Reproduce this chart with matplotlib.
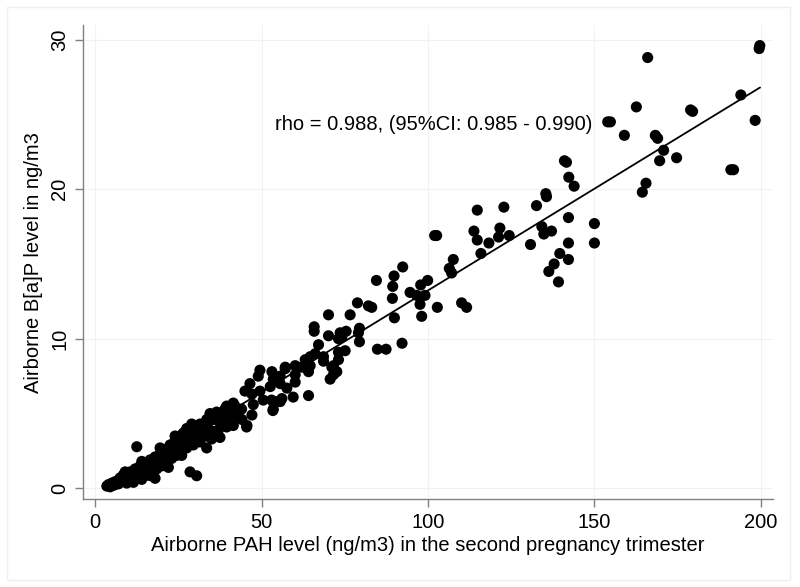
import matplotlib
matplotlib.use("Agg")
import matplotlib.pyplot as plt
from matplotlib.patches import Rectangle
import numpy as np

plt.rcParams["font.family"] = ["Liberation Sans", "DejaVu Sans"]

# PAH (x) and B[a]P (y) values
pah_high = [199.7, 199.5, 166.0, 162.6, 178.9, 179.5, 194.0, 154.0, 154.8, 159.0,
            168.3, 169.0, 198.3, 170.8, 169.6, 174.7, 191.0, 191.8, 141.0, 141.6,
            142.3, 143.9, 165.5, 164.4, 135.6, 135.4, 132.6, 114.8, 122.8, 142.2,
            150.0, 150.0, 102.6, 102.0, 113.8, 114.8, 118.3, 121.6, 121.2, 124.4,
            134.2, 134.8, 137.1, 130.8, 142.2, 115.9, 139.6, 142.2, 137.9, 136.3,
            139.2]
bap_high = [29.6, 29.4, 28.8, 25.5, 25.3, 25.2, 26.3, 24.5, 24.5, 23.6,
            23.6, 23.4, 24.6, 22.6, 21.9, 22.1, 21.3, 21.3, 21.9, 21.8,
            20.8, 20.2, 20.4, 19.8, 19.5, 19.7, 18.9, 18.6, 18.8, 18.1,
            17.7, 16.4, 16.9, 16.9, 17.2, 16.6, 16.4, 17.4, 16.8, 16.9,
            17.5, 17.0, 17.2, 16.3, 16.4, 15.7, 15.7, 15.3, 15.0, 14.5,
            13.8]

pah_mid = [92.4, 107.6, 106.4, 107.1, 99.9, 97.8, 94.6, 99.1, 96.6, 84.5,
           89.8, 89.4, 89.3, 97.6, 102.8, 110.1, 111.6, 98.1, 89.9, 78.8,
           82.1, 83.1, 70.1, 76.6, 65.8, 65.8, 70.1, 73.6, 75.4, 73.1,
           74.1, 79.4, 79.1, 79.4, 84.8, 87.4, 92.2, 67.1, 66.1, 64.6,
           68.6, 68.6, 73.1, 75.1, 73.1, 71.6, 72.6, 70.6, 71.1, 71.6,
           63.1, 62.1, 64.6, 64.1, 57.1, 60.1, 60.1, 60.1, 53.1, 53.5,
           52.6, 57.6, 59.5, 64.1, 56.1, 54.1, 53.5, 57.1, 55.6, 55.6,
           49.5, 49.0, 46.5, 45.0, 47.1, 49.5, 50.5, 53.0, 55.6, 47.5,
           47.1, 45.6, 44.1, 45.5, 53.4]
bap_mid = [14.8, 15.3, 14.7, 14.4, 13.9, 13.6, 13.1, 12.9, 12.9, 13.9,
           14.2, 13.5, 12.7, 12.3, 12.1, 12.4, 12.1, 11.5, 11.4, 12.4,
           12.2, 12.1, 11.6, 11.6, 10.8, 10.5, 10.2, 10.4, 10.5, 10.0,
           10.1, 10.7, 10.4, 9.8, 9.3, 9.3, 9.7, 9.6, 9.0, 8.8,
           8.8, 8.5, 9.1, 9.2, 8.6, 8.2, 7.8, 7.3, 8.1, 7.6,
           8.6, 8.1, 8.2, 7.8, 8.1, 8.2, 7.6, 7.1, 7.8, 7.3,
           6.8, 6.7, 6.1, 6.2, 6.0, 5.8, 5.3, 8.0, 7.5, 7.0,
           7.9, 7.5, 7.0, 6.5, 6.3, 6.5, 5.9, 5.9, 5.8, 5.6,
           4.9, 4.2, 4.6, 4.1, 5.2]

pah_low = [41.5, 39.5, 38.5, 40.5, 42.6, 36.5, 35.5, 37.5, 39.5, 41.5,
           33.5, 31.5, 30.5, 32.5, 34.0, 35.5, 37.5, 27.5, 26.5, 28.5,
           27.0, 30.0, 33.5, 12.5, 18.0, 28.5, 30.5,
           3.5, 4.0, 4.5, 5.0, 5.5, 6.0, 6.5, 7.0, 7.0, 7.5,
           8.0, 8.5, 9.0, 9.5, 10.0, 10.5, 11.0, 11.5, 12.0, 12.5,
           13.0, 13.5, 14.0, 14.5, 15.0, 15.5, 16.0, 16.5, 17.0, 17.5,
           18.0, 18.5, 19.0, 19.5, 20.0, 20.5, 21.0, 21.5, 22.0, 22.5,
           23.0, 23.5, 24.0, 24.5, 25.0, 25.5, 26.0, 26.5, 27.0, 27.5,
           28.0, 29.0, 29.5, 30.0, 31.0, 31.5, 32.0, 33.0, 33.5, 34.0,
           35.0, 36.0, 37.0, 38.0, 39.0, 40.0, 41.0, 42.0, 43.0, 44.0,
           9.0, 14.0, 19.5, 24.0, 29.0, 34.5, 22.0, 16.5, 11.5, 26.0]
bap_low = [5.7, 5.5, 5.1, 4.8, 4.9, 5.1, 4.6, 4.4, 4.1, 4.2,
           4.6, 4.3, 3.9, 3.6, 4.0, 3.8, 3.4, 4.0, 3.7, 3.2,
           3.0, 3.3, 2.7, 2.78, 0.67, 1.1, 0.84,
           0.15, 0.25, 0.1, 0.35, 0.2, 0.45, 0.3, 0.55, 0.3, 0.7,
           0.45, 0.9, 0.6, 0.35, 0.8, 1.1, 0.5, 0.9, 1.3, 0.7,
           1.1, 1.5, 0.6, 1.2, 1.7, 0.9, 1.4, 1.9, 1.1, 1.6,
           2.1, 1.3, 1.8, 2.3, 1.5, 2.0, 2.6, 1.7, 2.3, 2.9,
           2.0, 2.6, 3.2, 2.2, 2.8, 3.5, 2.5, 3.0, 3.7, 2.7,
           3.4, 3.9, 2.9, 3.6, 4.1, 3.1, 3.9, 4.3, 3.5, 4.6,
           3.3, 4.9, 3.9, 4.7, 5.3, 4.5, 5.0, 5.5, 4.8, 5.3,
           1.1, 1.8, 2.7, 3.5, 4.3, 5.0, 1.4, 0.85, 0.4, 2.2]

pah = np.array(pah_high + pah_mid + pah_low)
bap = np.array(bap_high + bap_mid + bap_low)

# fitted line as drawn in the figure
fit_intercept = -0.37
fit_slope = 0.136
fit_range = [3.5, 199.7]

annotation = "rho = 0.988, (95%CI: 0.985 - 0.990)"

fig = plt.figure(figsize=(8.0, 5.87), dpi=100)
ax = fig.add_axes([0.104, 0.150, 0.862, 0.807])

ax.scatter(pah, bap, s=64, color="black", edgecolors="none", zorder=3)
fx = np.array(fit_range)
ax.plot(fx, fit_intercept + fit_slope * fx, color="black", lw=1.3, zorder=4)

ax.text(54, 24.3, annotation, ha="left", va="center", fontsize=14.5)

ax.set_xlim(-3.6, 203.6)
ax.set_ylim(-0.71, 30.96)
ax.set_xticks([0, 50, 100, 150, 200])
ax.set_yticks([0, 10, 20, 30])
ax.grid(True, color="#f2f2f2", lw=0.8, zorder=0)
ax.set_axisbelow(True)

for side in ["top", "right"]:
    ax.spines[side].set_visible(False)
for side in ["left", "bottom"]:
    ax.spines[side].set_color("#808080")
    ax.spines[side].set_linewidth(1.0)

ax.tick_params(axis="both", direction="out", length=6, width=1.0,
               color="#808080", labelsize=14.5, pad=4)
plt.setp(ax.get_yticklabels(), rotation=90, va="center")

ax.set_xlabel("Airborne PAH level (ng/m3) in the second pregnancy trimester",
              fontsize=14.5, labelpad=3)
ax.set_ylabel("Airborne B[a]P level in ng/m3", fontsize=14.5, labelpad=5)

# faint outer frame of the graph region
fig.patches.append(Rectangle((7 / 800, 7 / 587), 783 / 800, 573 / 587,
                             transform=fig.transFigure, fill=False,
                             edgecolor="#e6f3f3", lw=1.0))

fig.savefig("out.png", dpi=100)
